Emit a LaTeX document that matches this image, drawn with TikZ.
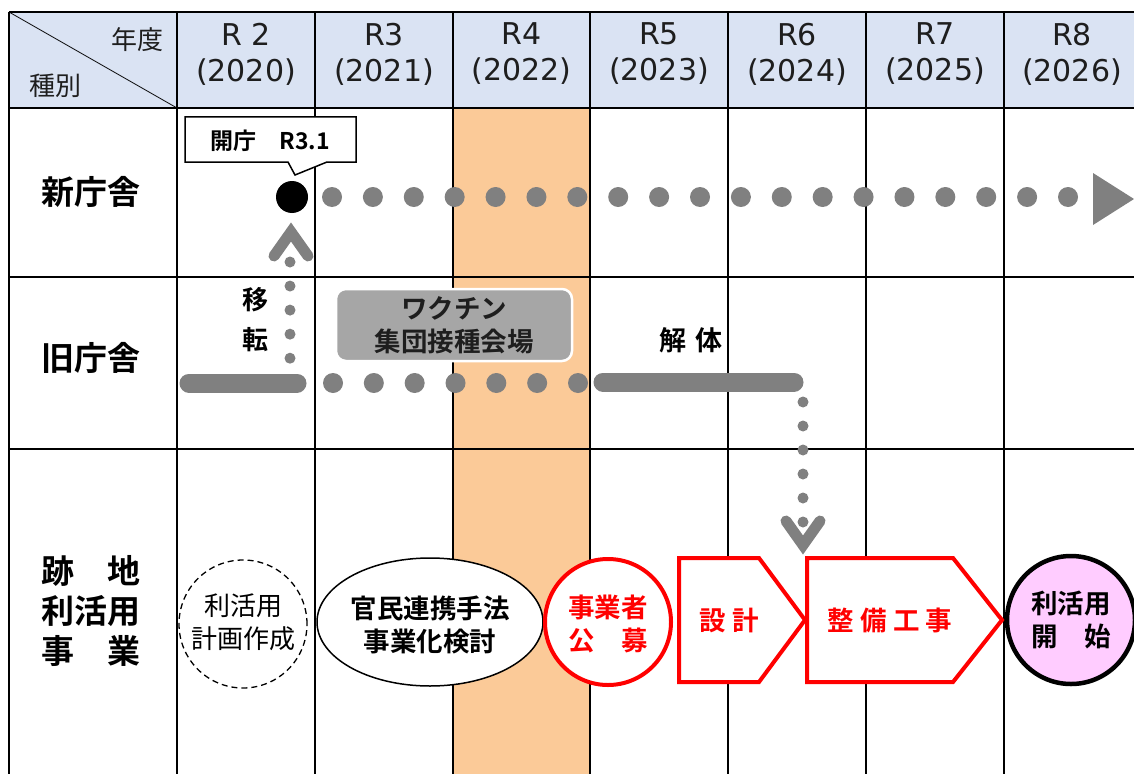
\documentclass[tikz,border=0pt]{standalone}
\usepackage{fontspec}
\setmainfont{Noto Sans CJK JP}[BoldFont={Noto Sans CJK JP Bold}]
\newfontfamily\latf{DejaVu Sans}
\definecolor{hdr}{RGB}{218,227,243}
\definecolor{org}{RGB}{251,202,152}
\definecolor{dgray}{RGB}{128,128,128}
\definecolor{bgray}{RGB}{166,166,166}
\definecolor{pinkf}{RGB}{255,204,255}
\definecolor{redl}{RGB}{255,0,0}
\definecolor{txt}{RGB}{30,30,30}
\begin{document}
\begin{tikzpicture}[x=1pt,y=-1pt,
  gridline/.style={draw=black, line width=1.5pt},
  hdrtxt/.style={font=\latf\fontsize{30}{36}\selectfont, align=center, text=txt, inner sep=0pt},
  rowlbl/.style={font=\fontsize{33}{40}\selectfont\bfseries, align=center, text=black, inner sep=0pt},
  bodytxt/.style={font=\fontsize{26.5}{33}\selectfont\bfseries, align=center, text=black, inner sep=0pt},
  plaintxt/.style={font=\fontsize{26}{33}\selectfont, align=center, text=black, inner sep=0pt},
  redtxt/.style={bodytxt, text=redl},
  bigdots/.style={dgray, line width=20pt, line cap=round},
  smalldots/.style={dgray, line width=11pt, line cap=round},
  bar/.style={dgray, line width=19pt, line cap=round},
  chev/.style={dgray, line width=11pt, line cap=round, line join=miter},
  redshape/.style={draw=redl, line width=4pt, fill=white, line join=miter},
]
\useasboundingbox (0,0) rectangle (1134,773);
\begin{scope}
\clip (0,0) rectangle (1134,773);
% fills
\fill[white] (0,0) rectangle (1134,773);
\fill[hdr] (9,12) rectangle (1140,108);
\fill[org] (453,108) rectangle (590,780);
% grid
\foreach \x in {9,177,315,453,590,728,866,1004}
  \draw[gridline] (\x,12) -- (\x,780);
\foreach \y in {12,108,277,449}
  \draw[gridline] (9,\y) -- (1140,\y);
\draw[black, line width=0.8pt] (9,12) -- (177,108);

% header texts
\node[font=\fontsize{26}{32}\selectfont, text=txt, inner sep=0pt] (nendo) at (137,40) {年度};
\node[font=\fontsize{26}{32}\selectfont, text=txt, inner sep=0pt] (shubetsu) at (55,86) {種別};
\node[hdrtxt] (y2020) at (246,54) {R 2\\(2020)};
\node[hdrtxt] (y2021) at (384,54) {R3\\(2021)};
\node[hdrtxt] (y2022) at (521.5,54) {R4\\(2022)};
\node[hdrtxt] (y2023) at (659,54) {R5\\(2023)};
\node[hdrtxt] (y2024) at (797,54) {R6\\(2024)};
\node[hdrtxt] (y2025) at (935,54) {R7\\(2025)};
\node[hdrtxt] (y2026) at (1072,54) {R8\\(2026)};

% row labels
\node[rowlbl] (shin) at (91,192) {新庁舎};
\node[rowlbl] (kyu) at (91,358) {旧庁舎};
\node[rowlbl] (ato) at (91,611) {跡　地\\利活用\\事　業};

% ---- new building row ----
\node[circle, fill=black, minimum size=32pt, inner sep=0pt] (open) at (292,197) {};
\coordinate (tlA) at (332,197);
\coordinate (tlB) at (1068.3,197);
\draw[bigdots, dash pattern=on 0pt off 40.889pt] (tlA) -- (tlB);
\coordinate (triL) at (1093,199);
\fill[dgray] (1093,173) -- (1134,199) -- (1093,225) -- cycle;

% callout
\draw[fill=white, line width=1.5pt, line join=miter] (185,117) -- (356,117) -- (356,162) -- (327,162) -- (295,175) -- (288,162) -- (185,162) -- cycle;
\node[font=\fontsize{23}{28}\selectfont\bfseries, inner sep=0pt] (callout) at (270,141) {開庁　R3.1};

% ---- old building row ----
\coordinate (barAs) at (189,383);
\coordinate (barAe) at (297,383);
\draw[bar] (barAs) -- (barAe);
\coordinate (odA) at (333,383);
\coordinate (odB) at (578.2,383);
\draw[bigdots, dash pattern=on 0pt off 40.833pt] (odA) -- (odB);
\coordinate (barBs) at (603,382);
\coordinate (barBe) at (794,382);
\draw[bar] (barBs) -- (barBe);

% move up
\coordinate (mvA) at (290,358.2);
\coordinate (mvB) at (290,262);
\draw[smalldots, dash pattern=on 0pt off 24.05pt] (mvA) -- (mvB);
\draw[chev] (274,256) -- (291,232) -- (308,256);
\node[font=\fontsize{26}{40}\selectfont\bfseries, align=center, inner sep=0pt] (iten) at (255,320) {移\\転};

% vaccine box
\node[draw=white, line width=2.5pt, fill=bgray, rounded corners=10pt, minimum width=236pt, minimum height=72pt, inner sep=0pt,
      font=\fontsize{26.5}{33}\selectfont\bfseries, align=center, text=txt] (vac) at (454,325) {ワクチン\\集団接種会場};

\node[font=\fontsize{27}{30}\selectfont\bfseries, inner sep=0pt] (kaitai) at (691,340) {解\,\,体};

% demolition down
\coordinate (dnA) at (803,402);
\coordinate (dnB) at (803,522.3);
\draw[smalldots, dash pattern=on 0pt off 24pt] (dnA) -- (dnB);
\draw[chev] (786,521) -- (803,545) -- (820,521);

% ---- site row ----
\draw[black, line width=1.3pt, dash pattern=on 6pt off 4pt, fill=white] (243,624) circle[radius=64pt];
\node[plaintxt] (plan) at (243,622) {利活用\\計画作成};

\draw[black, line width=1.5pt, fill=white] (430,622) ellipse[x radius=113pt, y radius=64pt];
\node[bodytxt] (ppp) at (430,625) {官民連携手法\\事業化検討};

\draw[draw=redl, line width=4pt, fill=white] (608,622) circle[radius=63pt];
\node[redtxt] (koubo) at (608,624) {事業者\\公　募};

\draw[redshape] (679,558) -- (759,558) -- (805,620) -- (759,682) -- (679,682) -- cycle;
\node[redtxt] (sekkei) at (729,620) {設 計};

\draw[redshape] (807,558) -- (953,558) -- (1002,620) -- (953,682) -- (807,682) -- cycle;
\node[redtxt] (seibi) at (890,620) {整 備 工 事};

\draw[black, line width=4.5pt, fill=pinkf] (1071,620) circle[radius=64pt];
\node[bodytxt] (kaishi) at (1071,620) {利活用\\開　始};
\end{scope}
\end{tikzpicture}
\end{document}
